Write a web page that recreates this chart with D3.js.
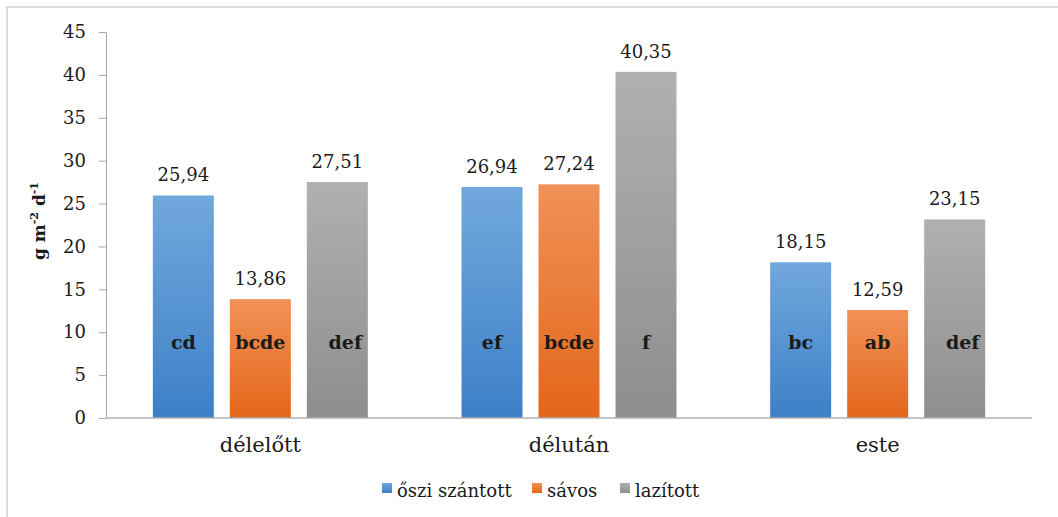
<!DOCTYPE html>
<html>
<head>
<meta charset="utf-8">
<script src="https://cdn.jsdelivr.net/npm/d3@7"></script>
<style>
  body { margin: 0; background: #fff; }
</style>
</head>
<body>
<div id="chart"></div>
<script>
const categories = ["délelőtt", "délután", "este"];
const seriesNames = ["őszi szántott", "sávos", "lazított"];
const osziSzantott = [25.94, 26.94, 18.15];
const savos = [13.86, 27.24, 12.59];
const lazitott = [27.51, 40.35, 23.15];
const letters = [
  ["cd", "bcde", "def"],
  ["ef", "bcde", "f"],
  ["bc", "ab", "def"]
];
const yTicks = [0, 5, 10, 15, 20, 25, 30, 35, 40, 45];

const colors = [
  { top: "#71a8dd", bottom: "#3d80c7" },
  { top: "#f19157", bottom: "#e3661a" },
  { top: "#b0b0b0", bottom: "#8e8e8e" }
];

const FONT = "'DejaVu Serif', serif";
const INK = "#1a1a1a";

drawChart();

function drawChart() {
  const W = 1058, H = 517;
  const margin = { top: 32, right: 26, bottom: 99, left: 106 },
    width = W - margin.left - margin.right,
    height = H - margin.top - margin.bottom;

  const root = d3.select("#chart").append("svg")
    .attr("width", W).attr("height", H)
    .attr("font-family", FONT);

  // outer frame (top + left visible)
  root.append("path")
    .attr("d", "M7,517 L7,7 L1058,7")
    .attr("fill", "none").attr("stroke", "#d0d0d0").attr("stroke-width", 1.5);

  const defs = root.append("defs");
  colors.forEach(function (c, i) {
    const g = defs.append("linearGradient").attr("id", "grad" + i)
      .attr("x1", 0).attr("y1", 0).attr("x2", 0).attr("y2", 1);
    g.append("stop").attr("offset", "0%").attr("stop-color", c.top);
    g.append("stop").attr("offset", "100%").attr("stop-color", c.bottom);
  });

  const svg = root.append("g")
    .attr("transform", "translate(" + margin.left + "," + margin.top + ")");

  const x0 = d3.scaleBand().domain(categories).range([0, width]).padding(0);
  const x1 = d3.scaleBand().domain(d3.range(3))
    .range([-107.5, 107.5]).paddingInner(0.208).paddingOuter(0);
  const y = d3.scaleLinear().domain([0, 45]).range([height, 0]);

  const allSeries = [osziSzantott, savos, lazitott];
  const data = [];
  categories.forEach(function (cat, ci) {
    allSeries.forEach(function (s, si) {
      data.push({ cat: cat, ci: ci, si: si, value: s[ci], letter: letters[ci][si] });
    });
  });

  const cx = function (d) { return x0(d.cat) + x0.bandwidth() / 2 + x1(d.si); };

  // Y axis
  const yAxis = svg.append("g")
    .call(d3.axisLeft(y).tickValues(yTicks).tickSize(7).tickPadding(13).tickFormat(d3.format("d")));
  yAxis.attr("font-family", FONT).attr("font-size", 18);
  yAxis.select(".domain").attr("stroke", "#a6a6a6");
  yAxis.selectAll(".tick line").attr("stroke", "#a6a6a6");
  yAxis.selectAll(".tick text")
    .attr("font-family", FONT).attr("font-size", 18).attr("fill", INK);

  // bars
  svg.selectAll("rect.bar").data(data).enter().append("rect")
    .attr("class", "bar")
    .attr("x", cx)
    .attr("y", function (d) { return y(d.value); })
    .attr("width", x1.bandwidth())
    .attr("height", function (d) { return height - y(d.value); })
    .attr("fill", function (d) { return "url(#grad" + d.si + ")"; });

  // X axis baseline
  svg.append("line")
    .attr("x1", 0).attr("x2", width)
    .attr("y1", height).attr("y2", height)
    .attr("stroke", "#b0b0b0").attr("stroke-width", 1.5);

  // category labels
  svg.selectAll("text.cat").data(categories).enter().append("text")
    .attr("class", "cat")
    .attr("x", function (d) { return x0(d) + x0.bandwidth() / 2; })
    .attr("y", height + 34)
    .attr("text-anchor", "middle")
    .attr("font-family", FONT).attr("fill", INK)
    .attr("font-size", 21)
    .text(function (d) { return d; });

  // value labels
  svg.selectAll("text.val").data(data).enter().append("text")
    .attr("class", "val")
    .attr("x", function (d) { return cx(d) + x1.bandwidth() / 2; })
    .attr("y", function (d) { return y(d.value) - 14; })
    .attr("text-anchor", "middle")
    .attr("font-family", FONT).attr("fill", INK)
    .attr("font-size", 18)
    .text(function (d) { return d3.format(".2f")(d.value).replace(".", ","); });

  // significance letters
  svg.selectAll("text.let").data(data).enter().append("text")
    .attr("class", "let")
    .attr("x", function (d) { return cx(d) + x1.bandwidth() / 2 + (d.si === 2 && d.letter.length > 1 ? 8 : 0); })
    .attr("y", y(8.1))
    .attr("text-anchor", "middle")
    .attr("font-family", FONT).attr("fill", INK)
    .attr("font-size", 19)
    .attr("font-weight", "bold")
    .text(function (d) { return d.letter; });

  // y axis title
  const yt = root.append("text")
    .attr("transform", "translate(45,221) rotate(-90)")
    .attr("text-anchor", "middle")
    .attr("font-family", FONT).attr("fill", INK)
    .attr("font-size", 17)
    .attr("font-weight", "bold");
  yt.append("tspan").text("g m");
  yt.append("tspan").attr("dy", -7).attr("font-size", 11).text("-2");
  yt.append("tspan").attr("dy", 7).text(" d");
  yt.append("tspan").attr("dy", -7).attr("font-size", 11).text("-1");

  // legend
  const legendX = [382, 532, 620];
  const leg = root.append("g");
  seriesNames.forEach(function (name, i) {
    leg.append("rect")
      .attr("x", legendX[i]).attr("y", 483)
      .attr("width", 10).attr("height", 10)
      .attr("fill", "url(#grad" + i + ")");
    leg.append("text")
      .attr("x", legendX[i] + 15).attr("y", 497)
      .attr("font-family", FONT).attr("fill", INK)
      .attr("font-size", 18)
      .text(name);
  });
}
</script>
</body>
</html>
